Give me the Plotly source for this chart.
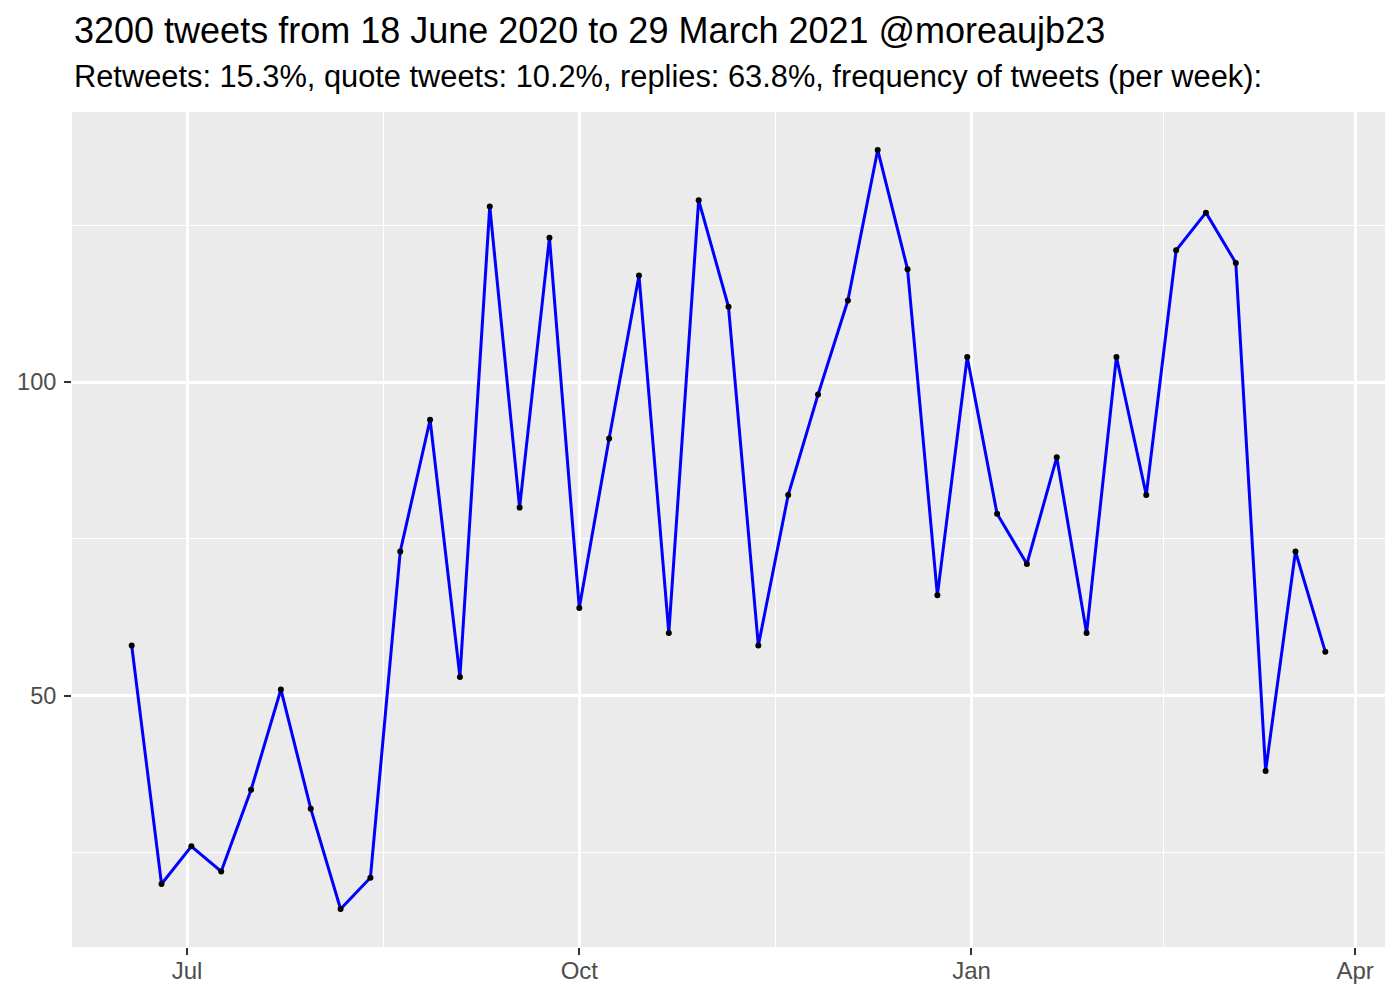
import plotly.graph_objects as go

week_dates = [
    "2020-06-18", "2020-06-25", "2020-07-02", "2020-07-09", "2020-07-16",
    "2020-07-23", "2020-07-30", "2020-08-06", "2020-08-13", "2020-08-20",
    "2020-08-27", "2020-09-03", "2020-09-10", "2020-09-17", "2020-09-24",
    "2020-10-01", "2020-10-08", "2020-10-15", "2020-10-22", "2020-10-29",
    "2020-11-05", "2020-11-12", "2020-11-19", "2020-11-26", "2020-12-03",
    "2020-12-10", "2020-12-17", "2020-12-24", "2020-12-31", "2021-01-07",
    "2021-01-14", "2021-01-21", "2021-01-28", "2021-02-04", "2021-02-11",
    "2021-02-18", "2021-02-25", "2021-03-04", "2021-03-11", "2021-03-18",
    "2021-03-25",
]
tweets_per_week = [
    58, 20, 26, 22, 35, 51, 32, 16, 21, 73,
    94, 53, 128, 80, 123, 64, 91, 117, 60, 129,
    112, 58, 82, 98, 113, 137, 118, 66, 104, 79,
    71, 88, 60, 104, 82, 121, 127, 119, 38, 73,
    57,
]

x_tick_vals = ["2020-07-01", "2020-10-01", "2021-01-01", "2021-04-01"]
x_tick_text = ["Jul", "Oct", "Jan", "Apr"]
x_minor_vals = ["2020-08-16", "2020-11-16", "2021-02-15"]
y_tick_vals = [50, 100]
y_minor_vals = [25, 75, 125]

title_text = "3200 tweets from 18 June 2020 to 29 March 2021 @moreaujb23"
subtitle_text = ("Retweets: 15.3%, quote tweets: 10.2%, replies: 63.8%, "
                 "frequency of tweets (per week):")

FONT = "Liberation Sans, Arial, Helvetica, sans-serif"

fig = go.Figure()
fig.add_trace(go.Scatter(
    x=week_dates, y=tweets_per_week, mode="lines",
    line=dict(color="#0000FF", width=3), hoverinfo="skip", showlegend=False,
))
fig.add_trace(go.Scatter(
    x=week_dates, y=tweets_per_week, mode="markers",
    marker=dict(color="black", size=6), showlegend=False,
))

fig.update_layout(
    width=1400, height=1000,
    margin=dict(l=72, r=15, t=112, b=53),
    paper_bgcolor="white", plot_bgcolor="#EBEBEB",
    font=dict(family=FONT, color="black"),
    xaxis=dict(
        type="date", range=["2020-06-04", "2021-04-08"],
        tickmode="array", tickvals=x_tick_vals, ticktext=x_tick_text,
        showgrid=True, gridcolor="white", gridwidth=2.6,
        ticks="outside", ticklen=7, tickwidth=2, tickcolor="#333333",
        tickfont=dict(size=24, color="#4D4D4D", family=FONT),
        ticklabelstandoff=-5, automargin=False,
        minor=dict(tickmode="array", tickvals=x_minor_vals, showgrid=True,
                   gridcolor="white", gridwidth=1.3, ticks=""),
        zeroline=False, showline=False,
    ),
    yaxis=dict(
        range=[9.95, 143.05],
        tickmode="array", tickvals=y_tick_vals,
        showgrid=True, gridcolor="white", gridwidth=2.6,
        ticks="outside", ticklen=7, tickwidth=2, tickcolor="#333333",
        tickfont=dict(size=23.5, color="#4D4D4D", family=FONT),
        ticklabelstandoff=3, automargin=False,
        minor=dict(tickmode="array", tickvals=y_minor_vals, showgrid=True,
                   gridcolor="white", gridwidth=1.3, ticks=""),
        zeroline=False, showline=False,
    ),
    annotations=[
        dict(text=title_text, xref="paper", yref="paper", x=0, y=1.098,
             xanchor="left", yanchor="middle", showarrow=False,
             font=dict(size=36, color="black", family=FONT)),
        dict(text=subtitle_text, xref="paper", yref="paper", x=0, y=1.043,
             xanchor="left", yanchor="middle", showarrow=False,
             font=dict(size=30.8, color="black", family=FONT)),
    ],
)

fig.write_html("out.html",
               config={"displayModeBar": False},
               post_script="document.body.style.margin='0';"
                           "document.body.style.overflow='hidden';")
